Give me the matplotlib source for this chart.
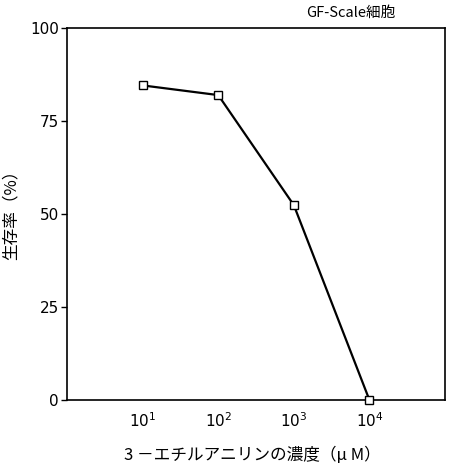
import numpy as np
import matplotlib
matplotlib.use("Agg")
import matplotlib.pyplot as plt

plt.rcParams['font.family'] = ['Noto Sans CJK JP', 'DejaVu Sans']

conc = [1e1, 1e2, 1e3, 1e4]          # uM
survival = [84.6, 82.0, 52.4, 0.0]   # %
yticks = [0, 25, 50, 75, 100]
xticks = [1e1, 1e2, 1e3, 1e4]
xticklabels = ['$10^1$', '$10^2$', '$10^3$', '$10^4$']

fig = plt.figure(figsize=(4.5, 4.69), dpi=100)
ax = fig.add_axes([0.149, 0.147, 0.840, 0.793])

ax.plot(conc, survival, color='black', lw=1.6, marker='s', ms=6,
        mfc='white', mec='black', mew=1.0, clip_on=False, zorder=3)

ax.set_xscale('log')
ax.set_xlim(1, 1e5)
ax.set_ylim(0, 100)
ax.set_yticks(yticks)
ax.set_yticklabels([str(t) for t in yticks], fontsize=11, family='DejaVu Sans')
ax.set_xticks(xticks)
ax.set_xticklabels(xticklabels, fontsize=11, family='DejaVu Sans')
ax.minorticks_off()
ax.tick_params(axis='x', length=0, pad=8)
ax.tick_params(axis='y', length=4, width=1, pad=2)
for s in ax.spines.values():
    s.set_linewidth(1.2)

fig.text(0.56, 0.03, '3 －エチルアニリンの濃度（μ M）', fontsize=12,
         ha='center', va='center')
fig.text(0.024, 0.55, '生存率（%）', fontsize=12, rotation=90,
         ha='center', va='center')
fig.text(0.78, 0.972, 'GF-Scale細胞', fontsize=10.5, ha='center', va='center')

fig.savefig('out.png', dpi=100)
